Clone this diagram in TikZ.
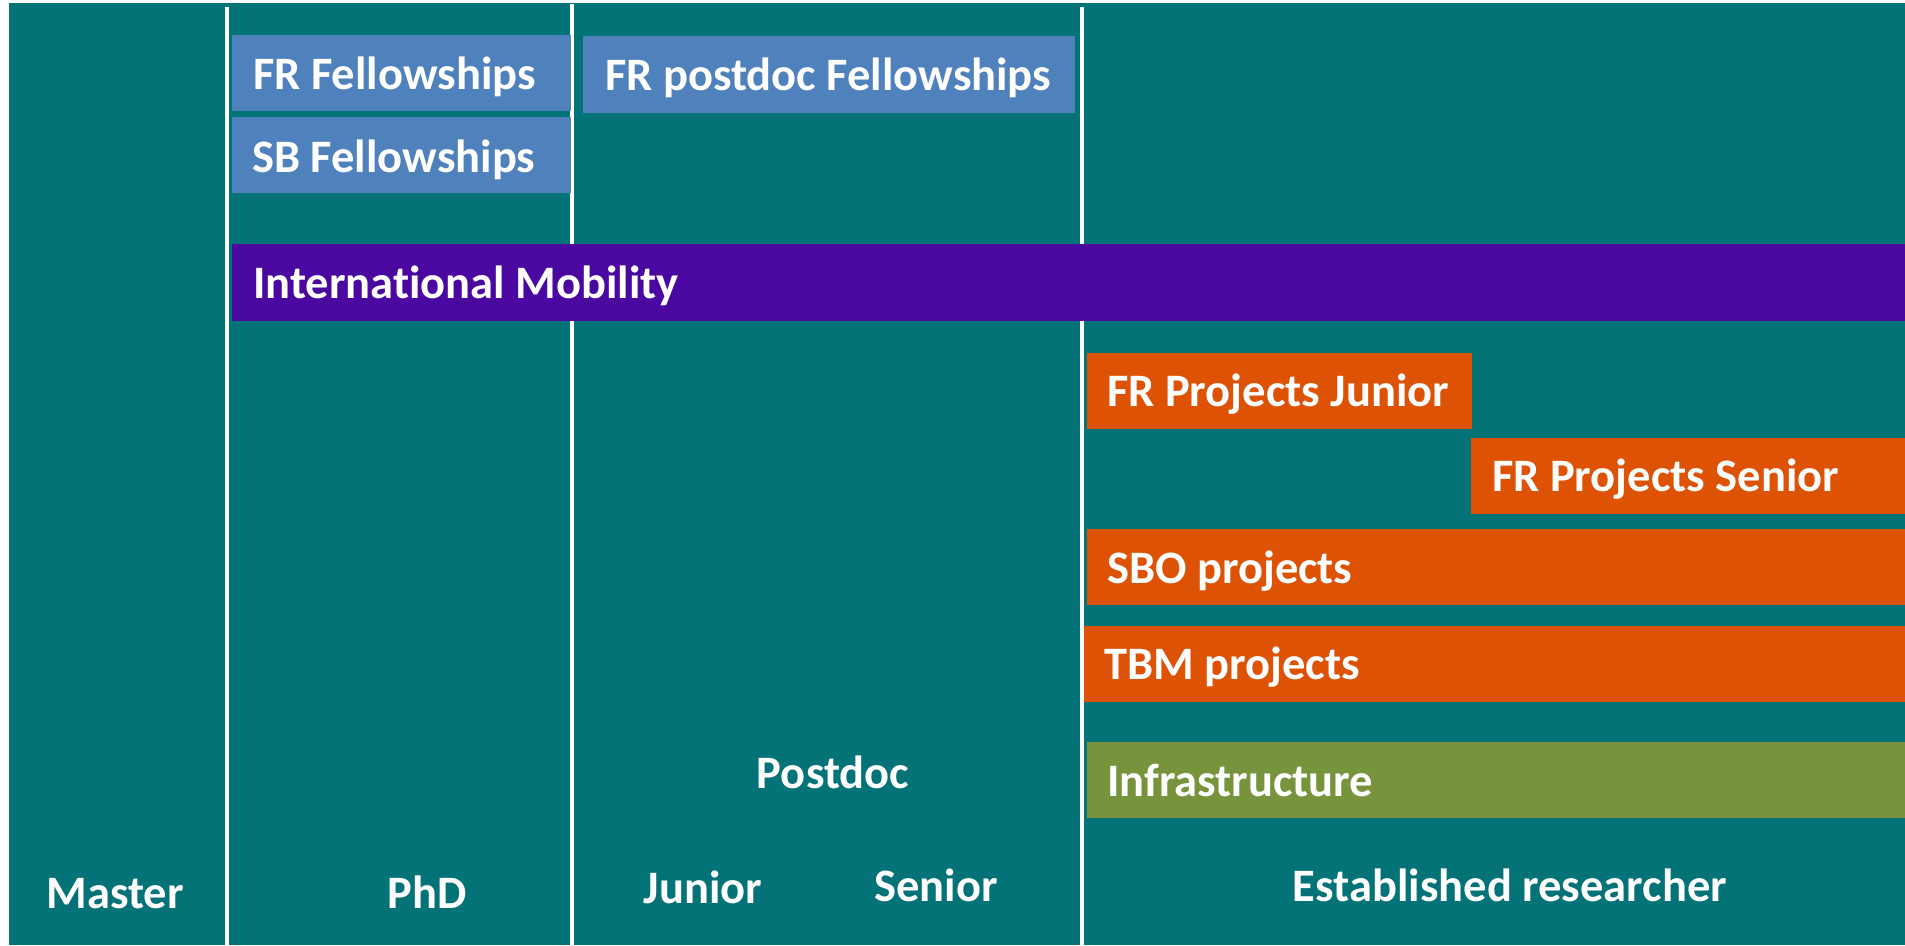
\documentclass[tikz,border=0pt]{standalone}
\usepackage{fontspec}
\setmainfont{Carlito}[Ligatures={NoCommon}]
\definecolor{tealbg}{RGB}{3,115,120}
\definecolor{blubox}{RGB}{79,129,189}
\definecolor{purbox}{RGB}{75,8,161}
\definecolor{orabox}{RGB}{222,82,6}
\definecolor{grebox}{RGB}{119,147,60}
\begin{document}
\begin{tikzpicture}[x=1pt,y=-1pt,
  bar/.style={draw=none,inner sep=0pt,anchor=north west},
  txt/.style={text=white,inner sep=0pt,anchor=base west,font=\fontsize{46.5pt}{55pt}\selectfont\bfseries},
  ctxt/.style={txt,anchor=base},
  divider/.style={draw=white,line width=3.3pt}]
\useasboundingbox (0,0) rectangle (1905,945);
\fill[white] (0,0) rectangle (1905,945);
\fill[tealbg] (9,3) rectangle (1905,945);
% dividers
\coordinate (d1t) at (227,7);  \coordinate (d1b) at (227,945);
\coordinate (d2t) at (572,4);  \coordinate (d2b) at (572,945);
\coordinate (d3t) at (1082,7); \coordinate (d3b) at (1082,945);
\draw[divider] (d1t) -- (d1b);
\draw[divider] (d2t) -- (d2b);
\draw[divider] (d3t) -- (d3b);
% blue fellowships
\node[bar,fill=blubox,minimum width=339pt,minimum height=76pt] (frf) at (232,35) {};
\node[txt] (frft) at (253,89) {FR Fellowships};
\node[bar,fill=blubox,minimum width=339pt,minimum height=76pt] (sbf) at (232,117) {};
\node[txt] (sbft) at (252,172) {SB Fellowships};
\node[bar,fill=blubox,minimum width=492pt,minimum height=77pt] (frp) at (583,36) {};
\node[txt] (frpt) at (605,90) {FR postdoc Fellowships};
% mobility
\node[bar,fill=purbox,minimum width=1673pt,minimum height=77pt] (mob) at (232,244) {};
\node[txt] (mobt) at (253,298) {International Mobility};
% projects
\node[bar,fill=orabox,minimum width=385pt,minimum height=76pt] (frj) at (1087,353) {};
\node[txt] (frjt) at (1107,406) {FR Projects Junior};
\node[bar,fill=orabox,minimum width=434pt,minimum height=76pt] (frs) at (1471,438) {};
\node[txt] (frst) at (1492,491) {FR Projects Senior};
\node[bar,fill=orabox,minimum width=818pt,minimum height=76pt] (sbo) at (1087,529) {};
\node[txt] (sbot) at (1107,583) {SBO projects};
\node[bar,fill=orabox,minimum width=821pt,minimum height=76pt] (tbm) at (1084,626) {};
\node[txt] (tbmt) at (1104,679) {TBM projects};
\node[bar,fill=grebox,minimum width=818pt,minimum height=76pt] (inf) at (1087,742) {};
\node[txt] (inft) at (1107,796) {Infrastructure};
% stage labels
\node[ctxt] (master) at (115,908) {Master};
\node[ctxt] (phd) at (427,908) {PhD};
\node[ctxt] (postdoc) at (833,788) {Postdoc};
\node[ctxt] (junior) at (703,903) {Junior};
\node[ctxt] (senior) at (936,901) {Senior};
\node[ctxt] (estab) at (1510,901) {Established researcher};
\end{tikzpicture}
\end{document}
